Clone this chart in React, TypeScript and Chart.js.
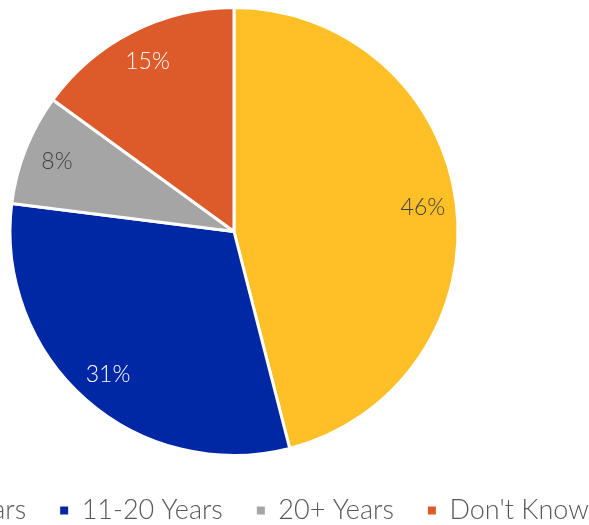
import React, { useEffect, useRef } from "react";
import { Chart, registerables } from "chart.js";

Chart.register(...registerables);

const categories = ["0-10 Years", "11-20 Years", "20+ Years", "Don't Know"];
const shares = [46, 31, 8, 15];
const sliceColors = ["#FEBF27", "#0028A4", "#A5A5A5", "#DD5A2B"];
const valueLabelColors = ["#404040", "#FFFFFF", "#404040", "#FFFFFF"];

const FONT = "Lato, 'Noto Sans', sans-serif";

const sliceLabelPlugin = {
  id: "sliceLabels",
  afterDatasetsDraw(chart: any) {
    const { ctx } = chart;
    const meta = chart.getDatasetMeta(0);
    ctx.save();
    ctx.font = `300 23px ${FONT}`;
    ctx.textAlign = "center";
    ctx.textBaseline = "middle";
    meta.data.forEach((arc: any, i: number) => {
      const p = arc.getProps(["x", "y", "startAngle", "endAngle", "outerRadius"], true);
      const mid = (p.startAngle + p.endAngle) / 2;
      const r = p.outerRadius * 0.85;
      ctx.fillStyle = valueLabelColors[i];
      ctx.fillText(`${shares[i]}%`, p.x + Math.cos(mid) * r, p.y + Math.sin(mid) * r);
    });
    ctx.restore();
  },
};

export default function App() {
  const ref = useRef<HTMLCanvasElement | null>(null);
  useEffect(() => {
    if (!ref.current) return;
    const chart = new Chart(ref.current, {
      type: "pie",
      data: {
        labels: categories,
        datasets: [
          {
            data: shares,
            backgroundColor: sliceColors,
            borderColor: "#FFFFFF",
            borderWidth: 3,
            radius: 224,
          } as any,
        ],
      },
      options: {
        animation: false,
        responsive: false,
        devicePixelRatio: 1,
        layout: { padding: 0 },
        plugins: {
          tooltip: { enabled: false },
          legend: {
            position: "bottom",
            labels: {
              boxWidth: 8,
              boxHeight: 8,
              padding: 34,
              color: "#595959",
              font: { size: 27, family: FONT, weight: "300" as any },
              generateLabels: () =>
                categories.map((c, i) => ({
                  text: c,
                  fillStyle: sliceColors[i],
                  strokeStyle: sliceColors[i],
                  lineWidth: 0,
                  fontColor: "#595959",
                  hidden: false,
                  index: i,
                })),
            },
          },
        },
      },
      plugins: [sliceLabelPlugin],
    });
    return () => chart.destroy();
  }, []);

  return (
    <div style={{ position: "fixed", left: 0, top: 0, width: 589, height: 525, overflow: "hidden", background: "#fff" }}>
      <div style={{ position: "absolute", left: -216, top: 0, width: 900, height: 534 }}>
        <canvas ref={ref} width={900} height={534} style={{ display: "block" }} />
      </div>
    </div>
  );
}
